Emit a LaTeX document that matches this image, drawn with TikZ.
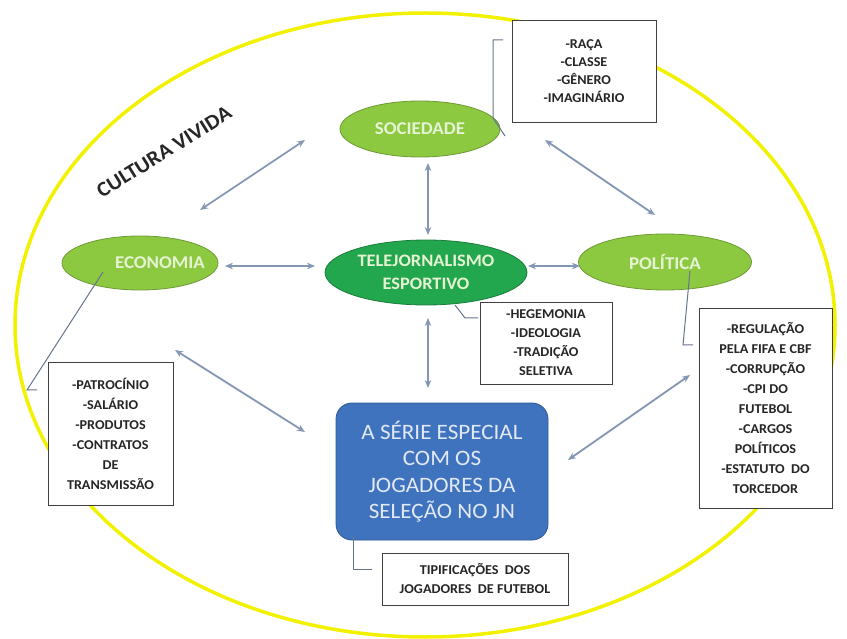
\documentclass[tikz,border=0pt]{standalone}
\usepackage{fontspec}
\setmainfont{Carlito}[FakeStretch=1.05]
\usetikzlibrary{shapes.geometric,arrows.meta}
\definecolor{yel}{HTML}{F2F200}
\definecolor{lgreen}{HTML}{8DC841}
\definecolor{lgreenline}{HTML}{6E9A35}
\definecolor{dgreen}{HTML}{22A64E}
\definecolor{dgreenline}{HTML}{1A7D3B}
\definecolor{bluebox}{HTML}{3F73BE}
\definecolor{blueline}{HTML}{2F5896}
\definecolor{arrowc}{HTML}{8396B4}
\definecolor{callc}{HTML}{66758C}
\definecolor{gtext}{HTML}{E6F3D2}
\definecolor{btext}{HTML}{E2E9F5}
\begin{document}
\begin{tikzpicture}[x=1pt,y=-1pt,
  elli/.style={ellipse, draw=lgreenline, line width=0.8pt, fill=lgreen, text=gtext, inner sep=0pt,
     font=\bfseries\fontsize{18}{20}\selectfont, align=center},
  elltext/.style={text=gtext, inner sep=0pt, font=\bfseries\fontsize{18}{20}\selectfont},
  txtbox/.style={draw=black!75, line width=0.8pt, fill=white, align=center, inner sep=0pt,
     font=\bfseries\fontsize{13.5}{19}\selectfont, text=black!85},
  arr/.style={{Stealth[length=8pt,width=6.5pt]}-{Stealth[length=8pt,width=6.5pt]}, draw=arrowc, line width=1.8pt},
  call/.style={draw=callc, line width=1pt}]
\useasboundingbox (0,0) rectangle (847,639);
\fill[white] (0,0) rectangle (847,639);
% big ellipse
\draw[yel, line width=3.5pt] (425,325) ellipse [x radius=410pt, y radius=312pt];
% title
\node[rotate=32, font=\bfseries\fontsize{21}{22}\selectfont, text=black!85] (title) at (164,152) {CULTURA VIVIDA};
% ellipses
\node[elli, minimum width=160pt, minimum height=56pt] (soc) at (420,129) {SOCIEDADE};
\node[elli, minimum width=156pt, minimum height=54pt] (eco) at (140,263) {};
\node[elltext] (ecotext) at ([xshift=20]eco.center) {ECONOMIA};
\node[elli, minimum width=173pt, minimum height=56pt] (pol) at (665,262) {POLÍTICA};
\node[elli, draw=dgreenline, fill=dgreen, minimum width=202pt, minimum height=65pt,
      font=\bfseries\fontsize{17.5}{23}\selectfont] (tele) at (426,272.5) {TELEJORNALISMO\\ESPORTIVO};
\node[draw=blueline, line width=0.8pt, fill=bluebox, rounded corners=16pt, minimum width=212pt, minimum height=137pt,
      text=btext, align=center, font=\fontsize{22}{26.5}\selectfont] (serie) at (442,471.5)
      {A SÉRIE ESPECIAL\\COM OS\\JOGADORES DA\\SELEÇÃO NO JN};
% boxes
\node[txtbox, minimum width=144pt, minimum height=102pt, font=\bfseries\fontsize{13.5}{18}\selectfont] (boxsoc) at (584,71)
      {-RAÇA\\-CLASSE\\-GÊNERO\\-IMAGINÁRIO};
\node[txtbox, minimum width=132pt, minimum height=82pt] (boxtele) at (546,343)
      {-HEGEMONIA\\-IDEOLOGIA\\-TRADIÇÃO\\SELETIVA};
\node[txtbox, minimum width=125pt, minimum height=143pt, font=\bfseries\fontsize{13.5}{20}\selectfont] (boxeco) at (110.5,433.5)
      {-PATROCÍNIO\\-SALÁRIO\\-PRODUTOS\\-CONTRATOS\\DE\\TRANSMISSÃO};
\node[txtbox, minimum width=133pt, minimum height=200pt, font=\bfseries\fontsize{13.5}{20}\selectfont] (boxpol) at (765.5,408)
      {-REGULAÇÃO\\PELA FIFA E CBF\\-CORRUPÇÃO\\-CPI DO\\FUTEBOL\\-CARGOS\\POLÍTICOS\\-ESTATUTO~~DO\\TORCEDOR};
\node[txtbox, minimum width=186pt, minimum height=52pt] (boxserie) at (475,579)
      {TIPIFICAÇÕES~~DOS\\JOGADORES~~DE FUTEBOL};
% arrows
\draw[arr] ([shift={(-115,11)}]soc.center) -- ([shift={(60,-53)}]eco.center);
\draw[arr] ([shift={(125,11)}]soc.center) -- ([shift={(-10,-47)}]pol.center);
\draw[arr] ([shift={(8,34)}]soc.center) -- ([shift={(2,-37.5)}]tele.center);
\draw[arr] ([shift={(2,45.5)}]tele.center) -- ([shift={(-14,-83.5)}]serie.center);
\draw[arr] ([shift={(85,3)}]eco.center) -- ([shift={(-111,-6.5)}]tele.center);
\draw[arr] ([shift={(102,-6.5)}]tele.center) -- ([shift={(-85,4)}]pol.center);
\draw[arr] ([shift={(35,87)}]eco.center) -- ([shift={(-137,-39.5)}]serie.center);
\draw[arr] ([shift={(25,113)}]pol.center) -- ([shift={(126,-11.5)}]serie.center);
% callouts
\draw[call] ([shift={(-81,-31)}]boxsoc.center) -- ++(-10,0) -- ++(0,78) -- ([shift={(85,7)}]soc.center);
\draw[call] ([shift={(29,32.5)}]tele.center) -- ++(10,13) -- ([shift={(-68,-25)}]boxtele.center);
\draw[call] ([shift={(-37,9)}]eco.center) -- ++(-76,118) -- ([shift={(-73.5,-43.5)}]boxeco.center);
\draw[call] ([shift={(25,9)}]pol.center) -- ++(-7,74) -- ([shift={(-72.5,-63)}]boxpol.center);
\draw[call] ([shift={(-89,63.5)}]serie.center) -- ++(0,34) -- ([shift={(-103,-10)}]boxserie.center);
\end{tikzpicture}
\end{document}
